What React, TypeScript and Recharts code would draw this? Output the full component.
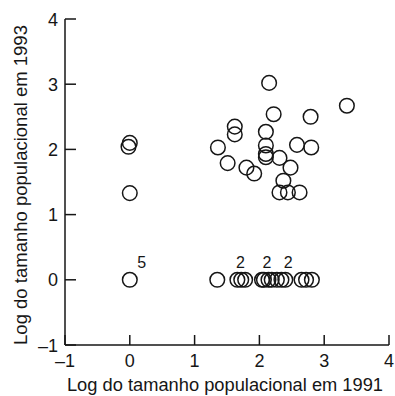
import React from 'react';
import { ScatterChart, Scatter, XAxis, YAxis } from 'recharts';

// Log population size: 1991 (x) versus 1993 (y)
const logSize1991 = [
  2.15, 3.35, 2.22, 2.79, 1.62, 1.62, 2.1, 1.36, 2.1, 2.1, 2.1, 2.58, 2.8, 1.51, 2.31,
  1.8, 1.92, 2.48, 2.37, 2.31, 2.44, 2.62, 0.0, -0.02, 0.0,
];
const logSize1993 = [
  3.02, 2.67, 2.54, 2.5, 2.35, 2.23, 2.27, 2.03, 2.06, 1.93, 1.88, 2.07, 2.03, 1.79, 1.87,
  1.72, 1.63, 1.72, 1.52, 1.34, 1.34, 1.34, 2.1, 2.04, 1.33,
];

// Populations that went extinct (log size 0 in 1993); count = overlapping points
const extinct1991 = [0.0, 1.35, 1.66, 1.72, 1.78, 2.04, 2.07, 2.14, 2.19, 2.27, 2.34, 2.4, 2.65, 2.72, 2.81];
const extinctCount = [5, 1, 2, 1, 1, 1, 2, 1, 1, 1, 1, 2, 1, 1, 1];

const axisTicks = [-1, 0, 1, 2, 3, 4];

const FONT = 'Liberation Sans, Arial, sans-serif';
const INK = '#161616';

const persisting = logSize1991.map((x, i) => ({ x, y: logSize1993[i], count: 1 }));
const extinct = extinct1991.map((x, i) => ({ x, y: 0, count: extinctCount[i] }));

const fmt = (v: number) => (v < 0 ? '\u2013' + Math.abs(v) : String(v));

const OpenCircle = (props: any) => {
  const { cx, cy, payload } = props;
  const count = payload?.count ?? 1;
  const dx = count > 2 ? 12 : 3;
  return (
    <g>
      <circle cx={cx} cy={cy} r={7.3} fill="none" stroke={INK} strokeWidth={1.5} />
      {count > 1 && (
        <text
          x={cx + dx}
          y={cy - 12}
          textAnchor="middle"
          fontFamily={FONT}
          fontSize={16}
          fill={INK}
        >
          {count}
        </text>
      )}
    </g>
  );
};

const XTick = (props: any) => {
  const { x, y, payload } = props;
  return (
    <g>
      <line x1={x} y1={y} x2={x} y2={y - 10} stroke={INK} strokeWidth={1.5} />
      <text x={x} y={y + 22} textAnchor="middle" fontFamily={FONT} fontSize={18} fill={INK}>
        {fmt(payload.value)}
      </text>
    </g>
  );
};

const YTick = (props: any) => {
  const { x, y, payload } = props;
  return (
    <g>
      <line x1={x} y1={y} x2={x + 11} y2={y} stroke={INK} strokeWidth={1.5} />
      <text x={x - 7} y={y + 6.5} textAnchor="end" fontFamily={FONT} fontSize={18} fill={INK}>
        {fmt(payload.value)}
      </text>
    </g>
  );
};

export default function App() {
  return (
    <div style={{ position: 'absolute', left: 0, top: 0, width: 395, height: 396, background: '#fff' }}>
      <ScatterChart
        width={395}
        height={396}
        margin={{ top: 19, right: 6, bottom: 21, left: 35 }}
      >
        <XAxis
          type="number"
          dataKey="x"
          domain={[-1, 4]}
          ticks={axisTicks}
          height={30}
          tickSize={0}
          tickMargin={0}
          tick={<XTick />}
          axisLine={{ stroke: INK, strokeWidth: 1.5 }}
          tickLine={false}
          allowDataOverflow
        />
        <YAxis
          type="number"
          dataKey="y"
          domain={[-1, 4]}
          ticks={axisTicks}
          width={30}
          tickSize={0}
          tickMargin={0}
          tick={<YTick />}
          axisLine={{ stroke: INK, strokeWidth: 1.5 }}
          tickLine={false}
          allowDataOverflow
        />
        <Scatter data={persisting} shape={<OpenCircle />} isAnimationActive={false} />
        <Scatter data={extinct} shape={<OpenCircle />} isAnimationActive={false} />
        <text
          x={225}
          y={391}
          textAnchor="middle"
          fontFamily={FONT}
          fontSize={18.3}
          fill={INK}
        >
          Log do tamanho populacional em 1991
        </text>
        <text
          transform="translate(27,185) rotate(-90)"
          textAnchor="middle"
          fontFamily={FONT}
          fontSize={18.5}
          fill={INK}
        >
          Log do tamanho populacional em 1993
        </text>
      </ScatterChart>
    </div>
  );
}
